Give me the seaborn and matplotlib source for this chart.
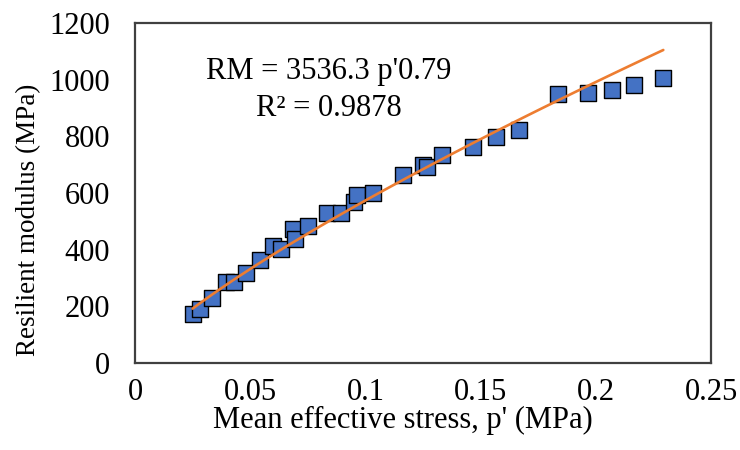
import numpy as np
import pandas as pd
import seaborn as sns
from matplotlib import pyplot as plt

# mean effective stress p' (MPa) and resilient modulus (MPa)
p_mean = [0.0250, 0.0282, 0.0333, 0.0394, 0.0431, 0.0482, 0.0541, 0.0600, 0.0632,
          0.0684, 0.0693, 0.0751, 0.0835, 0.0893, 0.0951, 0.0965, 0.1034, 0.1165,
          0.1251, 0.1269, 0.1332, 0.1466, 0.1567, 0.1667, 0.1835, 0.1967, 0.2069,
          0.2167, 0.2293]
rm = [173, 189, 229, 285, 286, 317, 364, 413, 402,
      473, 437, 484, 530, 530, 570, 593, 601, 662,
      699, 693, 735, 764, 797, 823, 950, 952, 965,
      980, 1006]

# power trendline shown on the chart: RM = k * p'^n
k_fit = 3536.3
n_fit = 0.79
r2_fit = 0.9878

x_ticks = [0, 0.05, 0.1, 0.15, 0.2, 0.25]
x_tick_labels = ["0", "0.05", "0.1", "0.15", "0.2", "0.25"]
y_ticks = [0, 200, 400, 600, 800, 1000, 1200]

sns.set_style("white")
plt.rcParams['font.family'] = ['Liberation Serif', 'DejaVu Serif']
plt.rcParams['text.color'] = 'black'
plt.rcParams['axes.labelcolor'] = 'black'

df = pd.DataFrame({"p": p_mean, "RM": rm})
p_line = np.linspace(min(p_mean), max(p_mean), 100)
trend = pd.DataFrame({"p": p_line, "RM": k_fit * p_line ** n_fit})

fig = plt.figure(figsize=(7.4, 4.5), dpi=100)
ax = fig.add_axes([135 / 740, 1 - 363 / 450, 576 / 740, 340 / 450])

sns.scatterplot(x="p", y="RM", data=df, ax=ax, marker="s", s=125,
                color="#4472C4", edgecolor="black", linewidth=1.0, zorder=2)
sns.lineplot(x="p", y="RM", data=trend, ax=ax, color="#ED7D31",
             linewidth=1.9, zorder=3)

ax.set_xlim(0, 0.25)
ax.set_ylim(0, 1200)
ax.set_xticks(x_ticks)
ax.set_xticklabels(x_tick_labels)
ax.set_yticks(y_ticks)

for side in ["left", "bottom", "top", "right"]:
    ax.spines[side].set_visible(True)
    ax.spines[side].set_color("#404040")
    ax.spines[side].set_linewidth(1.6)

ax.tick_params(axis="both", direction="out", length=6, width=1,
               color="#404040", labelsize=22, labelcolor="black")
ax.tick_params(axis="y", pad=12)
ax.tick_params(axis="x", pad=5)

ax.set_xlabel("Mean effective stress, p' (MPa)", fontsize=22, labelpad=-1)
ax.xaxis.label.set_x(0.465)
ax.set_ylabel("Resilient modulus (MPa)", fontsize=19.5, labelpad=6)
ax.yaxis.label.set_y(0.42)

ax.text(0.337, 0.856, f"RM = {k_fit} p'{n_fit}", transform=ax.transAxes,
        ha="center", va="center", fontsize=22)
ax.text(0.337, 0.750, f"R\u00b2 = {r2_fit}", transform=ax.transAxes,
        ha="center", va="center", fontsize=22)

fig.savefig("out.png", dpi=100)
